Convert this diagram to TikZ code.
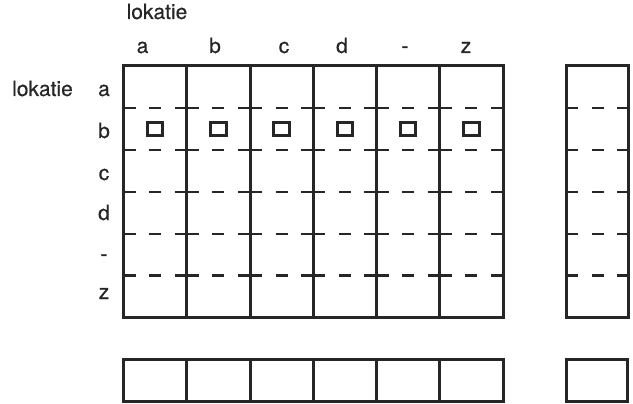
\documentclass[tikz,border=0pt]{standalone}
\usepackage{fontspec}
\setmainfont{TeX Gyre Heros}[BoldFont=TeX Gyre Heros,BoldFeatures={FakeBold=0.5}]
\usetikzlibrary{positioning}

\begin{document}
\begin{tikzpicture}[
  x=1pt, y=-1pt,
  font=\fontsize{21}{25}\selectfont\bfseries,
  col/.style={draw=black!85,line width=3pt,outer sep=0pt,inner sep=0pt,
              minimum width=63.25pt,minimum height=251.4pt},
  cell/.style={col,minimum height=41.6pt},
  slot/.style={draw=black!85,line width=3pt,inner sep=0pt,
               minimum width=15.5pt,minimum height=13pt},
  rowsep/.style={draw=black!85,line width=2.2pt,dash pattern=on 12pt off 13.6pt},
  lbl/.style={text=black!85,anchor=base,inner sep=0pt}
]
\useasboundingbox (0,0) rectangle (633,404);

%% ---- the main table: six columns, six rows ------------------------------
\node[col, anchor=north west] (c1) at (123.5,66) {};
\foreach \i [count=\j from 2] in {1,...,5}
  \node[col, right=0pt of c\i] (c\j) {};
\node[col, minimum width=62pt, right=63pt of c6] (cx) {};

\foreach \k in {1,...,6,x} {
  \foreach \r in {1,...,5}
    \draw[rowsep] (c\k.north west) ++(0,{41.9*\r}) -- (c\k.north east |- 0,{66+41.9*\r});
}

%% small squares in row b
\foreach \i in {1,...,6}
  \node[slot] (m\i) at ([yshift=-62.9pt]c\i.north) {};

%% ---- totals row below ---------------------------------------------------
\foreach \i in {1,...,6}
  \node[cell, below=42pt of c\i] (s\i) {};
\node[cell, minimum width=61.5pt, below=42pt of cx] (sx) {};

%% ---- labels ---------------------------------------------------------------
\node[lbl] (top) at (157,19) {lokatie};
\node[lbl] (lft) at (42.5,96) {lokatie};
\foreach \t/\x in {a/142.5, b/215, c/284, d/342, -/405, z/466}
  \node[lbl] (k\t) at (\x,53) {\t};
\foreach \t/\y in {a/96, b/138, c/180, d/220, -/261, z/299}
  \node[lbl] (r\t) at (104,\y) {\t};
\end{tikzpicture}
\end{document}
